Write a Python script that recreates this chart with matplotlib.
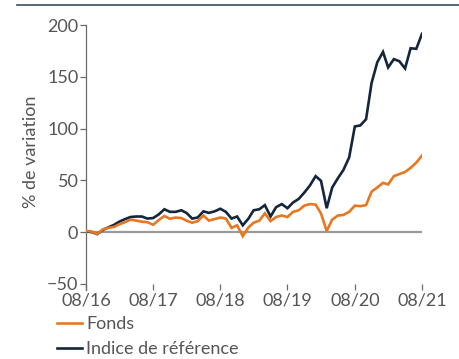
import matplotlib
matplotlib.use("Agg")
import matplotlib.pyplot as plt
import matplotlib.dates as mdates
from matplotlib.lines import Line2D
import pandas as pd

# Monthly cumulative change (%) from 08/2016 to 08/2021
months = pd.date_range("2016-08-31", periods=61, freq="ME")

fonds = [1, 0.5, -2, 2.5, 4, 5, 7.5, 9.5, 12, 11, 10, 9.5, 7, 11.5, 15.5,
         12.8, 14, 13.5, 11, 9, 10.5, 16, 11, 12.5, 14, 13, 4, 6.5, -4, 4.5,
         9, 11, 18, 10.5, 14.5, 16, 14.5, 19.5, 21, 25.5, 27, 26.5, 18, 1,
         12, 16, 16.5, 19.5, 25.5, 25, 26, 39, 43, 47.5, 46, 54, 56, 58, 62,
         67, 74]

indice = [0.5, 0, -2, 2, 4.5, 7, 10, 12.5, 14.5, 15, 15, 13, 13.5, 17, 22,
          19.5, 19.5, 21, 18.5, 13, 14, 20, 18.5, 20, 22.5, 19.5, 13, 15, 6.5,
          13, 21, 22, 26, 15, 24, 27, 23, 28.5, 32, 38, 45, 54, 49.5, 23, 43,
          52, 60, 72, 102, 103, 109, 144, 164, 174, 159, 167, 165, 158, 177.5,
          177, 191.5]

tick_dates = months[::12]
y_ticks = [-50, 0, 50, 100, 150, 200]
series_labels = ["Fonds", "Indice de référence"]

ORANGE = "#E87722"
NAVY = "#14263D"
TEXT = "#555555"
AXIS = "#6b6b6b"

plt.rcParams["font.family"] = ["Lato", "DejaVu Sans"]
FS = 13

fig = plt.figure(figsize=(4.6, 3.59), dpi=100)
ax = fig.add_axes([86 / 460, 69 / 359, 336 / 460, 265 / 359])

ax.axhline(0, color="#9a9a9a", lw=1.6, zorder=1)
l1, = ax.plot(months, fonds, color=ORANGE, lw=1.9, zorder=3,
              solid_joinstyle="miter")
l2, = ax.plot(months, indice, color=NAVY, lw=1.9, zorder=2,
              solid_joinstyle="miter")

ax.set_xlim(months[0], months[-1])
ax.set_ylim(-56, 200)
ax.set_yticks(y_ticks)
ax.set_xticks(tick_dates)
ax.xaxis.set_major_formatter(mdates.DateFormatter("%m/%y"))

for side in ("top", "right", "bottom"):
    ax.spines[side].set_visible(False)
ax.spines["left"].set_color(AXIS)
ax.spines["left"].set_linewidth(0.9)

ax.tick_params(axis="y", direction="out", length=4.5, width=0.9,
               color=AXIS, labelcolor=TEXT, labelsize=FS, pad=1)
ax.tick_params(axis="x", direction="in", length=4, width=0.9,
               color=AXIS, labelcolor=TEXT, labelsize=FS, pad=2)

ax.set_ylabel("% de variation", fontsize=FS, color=TEXT)
ax.yaxis.set_label_coords(-0.14, 0.52)

leg = fig.legend([l1, l2], series_labels, loc="upper left",
                 bbox_to_anchor=(50 / 460, 1 - 309 / 359),
                 frameon=False, fontsize=FS, handlelength=1.4,
                 handletextpad=0.2, labelspacing=0.5, borderaxespad=0)
for t in leg.get_texts():
    t.set_color(TEXT)

# thin rule across the top of the figure
fig.add_artist(Line2D([17 / 460, 1.0], [1 - 5 / 359, 1 - 5 / 359],
                      transform=fig.transFigure, color="#3b4f66", lw=1.2))

fig.savefig("out.png", dpi=100)
